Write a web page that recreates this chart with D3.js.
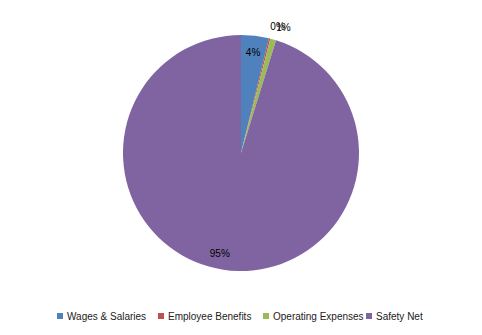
<!DOCTYPE html>
<html>
<head>
<meta charset="utf-8">
<script src="https://cdn.jsdelivr.net/npm/d3@7"></script>
<style>
  body { margin: 0; background: #fff; }
  text { font-family: "Liberation Sans", Arial, sans-serif; }
</style>
</head>
<body>
<svg width="482" height="335"></svg>
<script>
// slice data
var categories = ["Wages & Salaries", "Employee Benefits", "Operating Expenses", "Safety Net"];
var values = [3.8, 0.2, 0.8, 95.2];
var labels = ["4%", "0%", "1%", "95%"];
var colors = ["#4F81BD", "#C0504D", "#9BBB59", "#8064A2"];

var svg = d3.select("svg"),
    cx = 241, cy = 153, radius = 118;

var data = categories.map(function(c, i) { return {name: c, value: values[i], label: labels[i]}; });

var pie = d3.pie()
    .sort(null)
    .value(function(d) { return d.value; });

var arc = d3.arc().innerRadius(0).outerRadius(radius);
var labelArc = d3.arc().innerRadius(radius * 0.86).outerRadius(radius * 0.86);
var outerArc = d3.arc().innerRadius(radius + 12).outerRadius(radius + 12);

var z = d3.scaleOrdinal().domain(categories).range(colors);

var g = svg.append("g").attr("transform", "translate(" + cx + "," + cy + ")");

var arcs = pie(data);

g.selectAll("path")
  .data(arcs)
  .enter().append("path")
    .attr("d", arc)
    .attr("fill", function(d) { return z(d.data.name); });

// labels: small slices sit just outside the rim
g.selectAll("text.lbl")
  .data(arcs)
  .enter().append("text")
    .attr("class", "lbl")
    .attr("transform", function(d, i) {
      var p;
      if (d.data.value < 2) {
        p = outerArc.centroid(d);
        p[0] += i == 1 ? 5 : 7;
      } else {
        p = labelArc.centroid(d);
        if (i == 3) p[0] -= 6;
      }
      return "translate(" + p + ")";
    })
    .attr("dy", "0.35em")
    .attr("text-anchor", "middle")
    .attr("font-size", 10)
    .attr("fill", "#000")
    .text(function(d) { return d.data.label; });

// legend
var legendX = [57, 158, 263, 366];
var legend = svg.append("g")
  .selectAll("g")
  .data(categories)
  .enter().append("g")
    .attr("transform", function(d, i) { return "translate(" + legendX[i] + ",316)"; });
legend.append("rect")
    .attr("x", 0)
    .attr("y", -3)
    .attr("width", 6)
    .attr("height", 6)
    .attr("fill", z);
legend.append("text")
    .attr("x", 10)
    .attr("dy", "0.35em")
    .attr("font-size", 10)
    .attr("fill", "#222")
    .text(function(d) { return d; });
</script>
</body>
</html>
